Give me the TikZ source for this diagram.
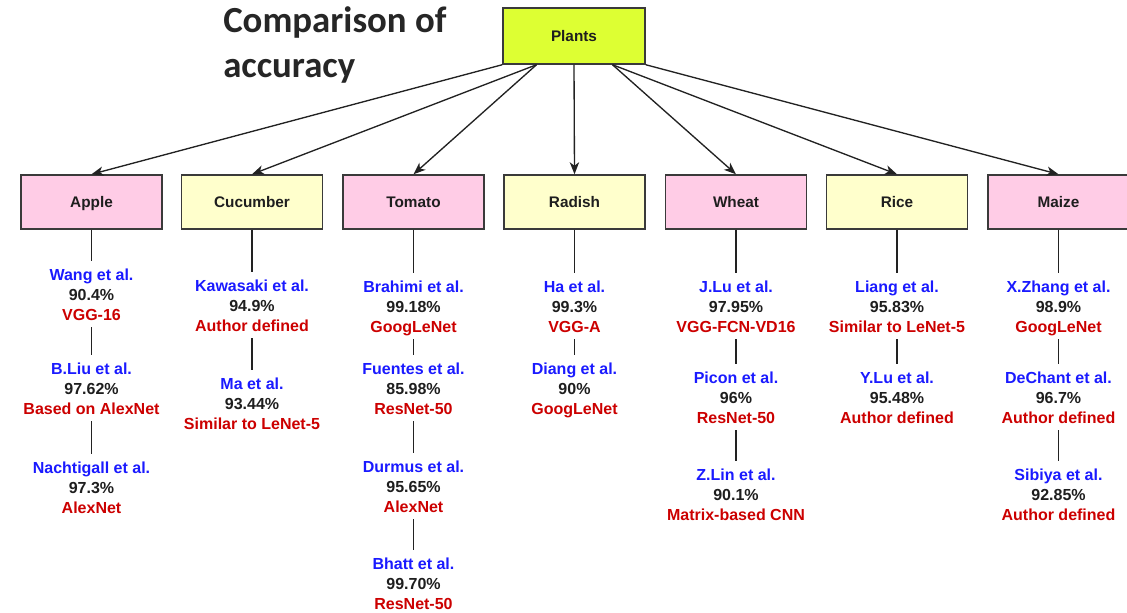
\documentclass[tikz,border=0pt]{standalone}
\usepackage{fontspec}
\setmainfont{Liberation Sans}
\newfontfamily\titlefont{Carlito}
\usetikzlibrary{arrows.meta,calc}

\definecolor{plantfill}{HTML}{DDFF33}
\definecolor{pinkfill}{HTML}{FFCCE6}
\definecolor{yellowfill}{HTML}{FFFFCC}
\definecolor{boxline}{HTML}{3A3A3A}
\definecolor{nameblue}{HTML}{1A1AFF}
\definecolor{pctblack}{HTML}{1E1E1E}
\definecolor{modelred}{HTML}{CC0000}
\definecolor{titlegray}{HTML}{262626}
\definecolor{edgegray}{HTML}{222222}

% one study: author, accuracy, network
\newcommand{\accrow}[3]{\strut\textcolor{nameblue}{#1}\\\strut\textcolor{pctblack}{#2}\\\strut\textcolor{modelred}{#3}}

\tikzset{
  crop/.style={draw=boxline, line width=1.1pt, minimum width=105.75pt, minimum height=40.5pt,
    inner sep=0pt, text height=8.25pt, text depth=0pt,
    font=\fontsize{11.5}{14}\selectfont\bfseries, text=pctblack},
  pinkcrop/.style={crop, fill=pinkfill},
  yellowcrop/.style={crop, fill=yellowfill},
  rootbox/.style={crop, fill=plantfill, minimum width=106.5pt, minimum height=42pt},
  study/.style={align=center, inner sep=0pt, font=\fontsize{12}{15}\selectfont\bfseries},
  branch/.style={draw=edgegray, line width=1pt, -{Stealth[length=9pt,width=7pt,inset=2.6pt]}},
  link/.style={draw=edgegray, line width=1pt, shorten <=0.75pt, shorten >=3.75pt},
  toplink/.style={draw=edgegray, line width=1pt, shorten >=3.75pt},
  heading/.style={anchor=base west, inner sep=0pt, text=titlegray,
    font=\titlefont\fontsize{27.6}{33}\selectfont\bfseries},
}

\begin{document}
\begin{tikzpicture}[x=0.75pt,y=-0.75pt]
\clip (0,0) rectangle (1127,613);
\fill[white] (0,0) rectangle (1127,613);

% title
\node[heading] (t1) at (223,33) {Comparison of};
\node[heading] (t2) at (223,78) {accuracy};

% root
\node[rootbox] (P) at (574,36) {Plants};

% crops
\node[pinkcrop]   (apple)    at (91.5,202)  {Apple};
\node[yellowcrop] (cucumber) at (252,202)   {Cucumber};
\node[pinkcrop]   (tomato)   at (413.5,202) {Tomato};
\node[yellowcrop] (radish)   at (574.5,202) {Radish};
\node[pinkcrop]   (wheat)    at (736,202)   {Wheat};
\node[yellowcrop] (rice)     at (897,202)   {Rice};
\node[pinkcrop]   (maize)    at (1058.5,202){Maize};

% edge exit points on the root box
\coordinate (o1) at (P.south west);
\coordinate (o2) at ($(P.south)+(-37.5,0)$);
\coordinate (o3) at (P.south);
\coordinate (o4) at ($(P.south)+(38.5,0)$);
\coordinate (o5) at (P.south east);

\draw[branch] (o1) -- (apple.north);
\draw[branch] (o2) -- (cucumber.north);
\draw[branch] (o2) -- (tomato.north);
\draw[branch] (o3) -- (radish.north);
\draw[branch] (o4) -- (wheat.north);
\draw[branch] (o4) -- (rice.north);
\draw[branch] (o5) -- (maize.north);

% Apple
\node[study] (a1) at (91.5,296) {\accrow{Wang et al.}{90.4\%}{VGG-16}};
\node[study] (a2) at (91.5,390) {\accrow{B.Liu et al.}{97.62\%}{Based on AlexNet}};
\node[study] (a3) at (91.5,489) {\accrow{Nachtigall et al.}{97.3\%}{AlexNet}};
\draw[toplink] (apple.south) -- (a1.north);
\draw[link] (a1.south) -- (a2.north);
\draw[link] (a2.south) -- (a3.north);

% Cucumber
\node[study] (c1) at (252,307) {\accrow{Kawasaki et al.}{94.9\%}{Author defined}};
\node[study] (c2) at (252,405) {\accrow{Ma et al.}{93.44\%}{Similar to LeNet-5}};
\draw[toplink] (cucumber.south) -- (c1.north);
\draw[link] (c1.south) -- (c2.north);

% Tomato
\node[study] (m1) at (413.5,308) {\accrow{Brahimi et al.}{99.18\%}{GoogLeNet}};
\node[study] (m2) at (413.5,390) {\accrow{Fuentes et al.}{85.98\%}{ResNet-50}};
\node[study] (m3) at (413.5,488) {\accrow{Durmus et al.}{95.65\%}{AlexNet}};
\node[study] (m4) at (413.5,585) {\accrow{Bhatt et al.}{99.70\%}{ResNet-50}};
\draw[toplink] (tomato.south) -- (m1.north);
\draw[link] (m1.south) -- (m2.north);
\draw[link] (m2.south) -- (m3.north);
\draw[link] (m3.south) -- (m4.north);

% Radish
\node[study] (r1) at (574.5,308) {\accrow{Ha et al.}{99.3\%}{VGG-A}};
\node[study] (r2) at (574.5,390) {\accrow{Diang et al.}{90\%}{GoogLeNet}};
\draw[toplink] (radish.south) -- (r1.north);
\draw[link] (r1.south) -- (r2.north);

% Wheat
\node[study] (w1) at (736,308) {\accrow{J.Lu et al.}{97.95\%}{VGG-FCN-VD16}};
\node[study] (w2) at (736,399) {\accrow{Picon et al.}{96\%}{ResNet-50}};
\node[study] (w3) at (736,496) {\accrow{Z.Lin et al.}{90.1\%}{Matrix-based CNN}};
\draw[toplink] (wheat.south) -- (w1.north);
\draw[link] (w1.south) -- (w2.north);
\draw[link] (w2.south) -- (w3.north);

% Rice
\node[study] (i1) at (897,308) {\accrow{Liang et al.}{95.83\%}{Similar to LeNet-5}};
\node[study] (i2) at (897,399) {\accrow{Y.Lu et al.}{95.48\%}{Author defined}};
\draw[toplink] (rice.south) -- (i1.north);
\draw[link] (i1.south) -- (i2.north);

% Maize
\node[study] (z1) at (1058.5,308) {\accrow{X.Zhang et al.}{98.9\%}{GoogLeNet}};
\node[study] (z2) at (1058.5,399) {\accrow{DeChant et al.}{96.7\%}{Author defined}};
\node[study] (z3) at (1058.5,496) {\accrow{Sibiya et al.}{92.85\%}{Author defined}};
\draw[toplink] (maize.south) -- (z1.north);
\draw[link] (z1.south) -- (z2.north);
\draw[link] (z2.south) -- (z3.north);
\end{tikzpicture}
\end{document}
